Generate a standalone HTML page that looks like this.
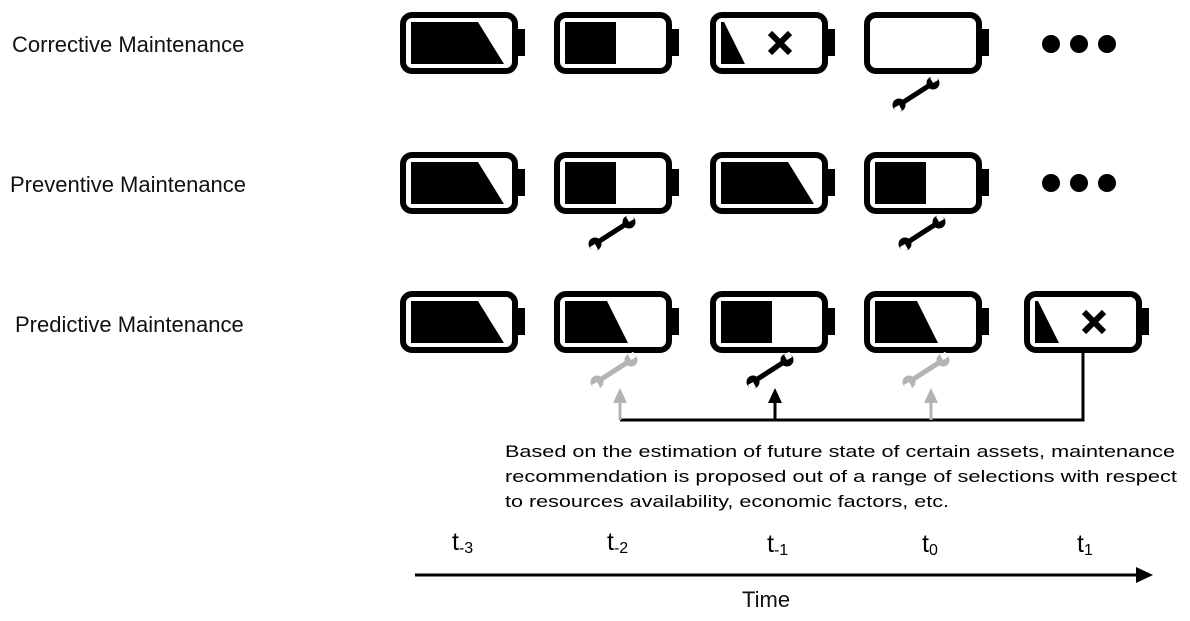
<!DOCTYPE html>
<html><head><meta charset="utf-8"><style>body{margin:0;background:#fff}svg{display:block}</style></head><body>
<svg width="1190" height="621" viewBox="0 0 1190 621" xmlns="http://www.w3.org/2000/svg" font-family="Liberation Sans, sans-serif">
<defs>
<g id="bat"><rect x="3" y="3" width="112" height="56" rx="9" fill="#fff" stroke="#000" stroke-width="6"/><rect x="117" y="17" width="8" height="27" fill="#000"/></g>
<g id="full"><use href="#bat"/><polygon points="11,10 78,10 104,52 11,52" fill="#000"/></g>
<g id="half"><use href="#bat"/><rect x="11" y="10" width="51" height="42" fill="#000"/></g>
<g id="low"><use href="#bat"/><polygon points="11,10 53,10 74,52 11,52" fill="#000"/></g>
<g id="vlow"><use href="#bat"/><polygon points="11,10 14,10 35,52 11,52" fill="#000"/><path d="M60,21 L80,41 M80,21 L60,41" stroke="#000" stroke-width="6"/></g>
<g id="wr"><path d="M-14,9 L14,-9" stroke-width="5" stroke-linecap="round"/><circle cx="-17" cy="11" r="6.5" stroke="none"/><circle cx="17" cy="-11" r="6.5" stroke="none"/><rect x="-23" y="11" width="6" height="6" fill="#fff" stroke="none" transform="rotate(-30 -17 11)"/><rect x="17" y="-17" width="6" height="6" fill="#fff" stroke="none" transform="rotate(-30 17 -11)"/></g>
</defs>
<g font-size="22" fill="#111">
<text x="12" y="52">Corrective Maintenance</text>
<text x="10" y="192">Preventive Maintenance</text>
<text x="15" y="332">Predictive Maintenance</text>
</g>
<use href="#full" x="400" y="12"/><use href="#half" x="554" y="12"/><use href="#vlow" x="710" y="12"/><use href="#bat" x="864" y="12"/>
<g fill="#000"><circle cx="1051" cy="44" r="9"/><circle cx="1079" cy="44" r="9"/><circle cx="1107" cy="44" r="9"/>
<circle cx="1051" cy="183" r="9"/><circle cx="1079" cy="183" r="9"/><circle cx="1107" cy="183" r="9"/></g>
<use href="#full" x="400" y="152"/><use href="#half" x="554" y="152"/><use href="#full" x="710" y="152"/><use href="#half" x="864" y="152"/>
<use href="#full" x="400" y="291"/><use href="#low" x="554" y="291"/><use href="#half" x="710" y="291"/><use href="#low" x="864" y="291"/><use href="#vlow" x="1024" y="291"/>
<g fill="#000" stroke="#000"><use href="#wr" x="916" y="94"/><use href="#wr" x="612" y="233"/><use href="#wr" x="922" y="233"/><use href="#wr" x="770" y="371"/></g>
<g fill="#b3b3b3" stroke="#b3b3b3"><use href="#wr" x="614" y="371"/><use href="#wr" x="926" y="371"/></g>
<path d="M620,420 H1083 V352" fill="none" stroke="#000" stroke-width="3"/>
<path d="M620,420 V402" stroke="#b3b3b3" stroke-width="3"/><polygon points="613,403 627,403 620,388" fill="#b3b3b3"/>
<path d="M931,420 V402" stroke="#b3b3b3" stroke-width="3"/><polygon points="924,403 938,403 931,388" fill="#b3b3b3"/>
<path d="M775,420 V402" stroke="#000" stroke-width="3"/><polygon points="768,403 782,403 775,388" fill="#000"/>
<g font-size="17" fill="#000">
<text x="505" y="457" textLength="670" lengthAdjust="spacingAndGlyphs">Based on the estimation of future state of certain assets, maintenance</text>
<text x="505" y="482" textLength="672" lengthAdjust="spacingAndGlyphs">recommendation is proposed out of a range of selections with respect</text>
<text x="505" y="507" textLength="444" lengthAdjust="spacingAndGlyphs">to resources availability, economic factors, etc.</text>
</g>
<g font-size="25" fill="#000">
<text x="452" y="550">t<tspan font-size="16" dy="3">-3</tspan></text>
<text x="607" y="550">t<tspan font-size="16" dy="3">-2</tspan></text>
<text x="767" y="552">t<tspan font-size="16" dy="3">-1</tspan></text>
<text x="922" y="552">t<tspan font-size="16" dy="3">0</tspan></text>
<text x="1077" y="552">t<tspan font-size="16" dy="3">1</tspan></text>
</g>
<path d="M415,575 H1138" stroke="#000" stroke-width="3"/><polygon points="1136,567 1153,575 1136,583" fill="#000"/>
<text x="742" y="607" font-size="22" fill="#111">Time</text>
</svg>
</body></html>
